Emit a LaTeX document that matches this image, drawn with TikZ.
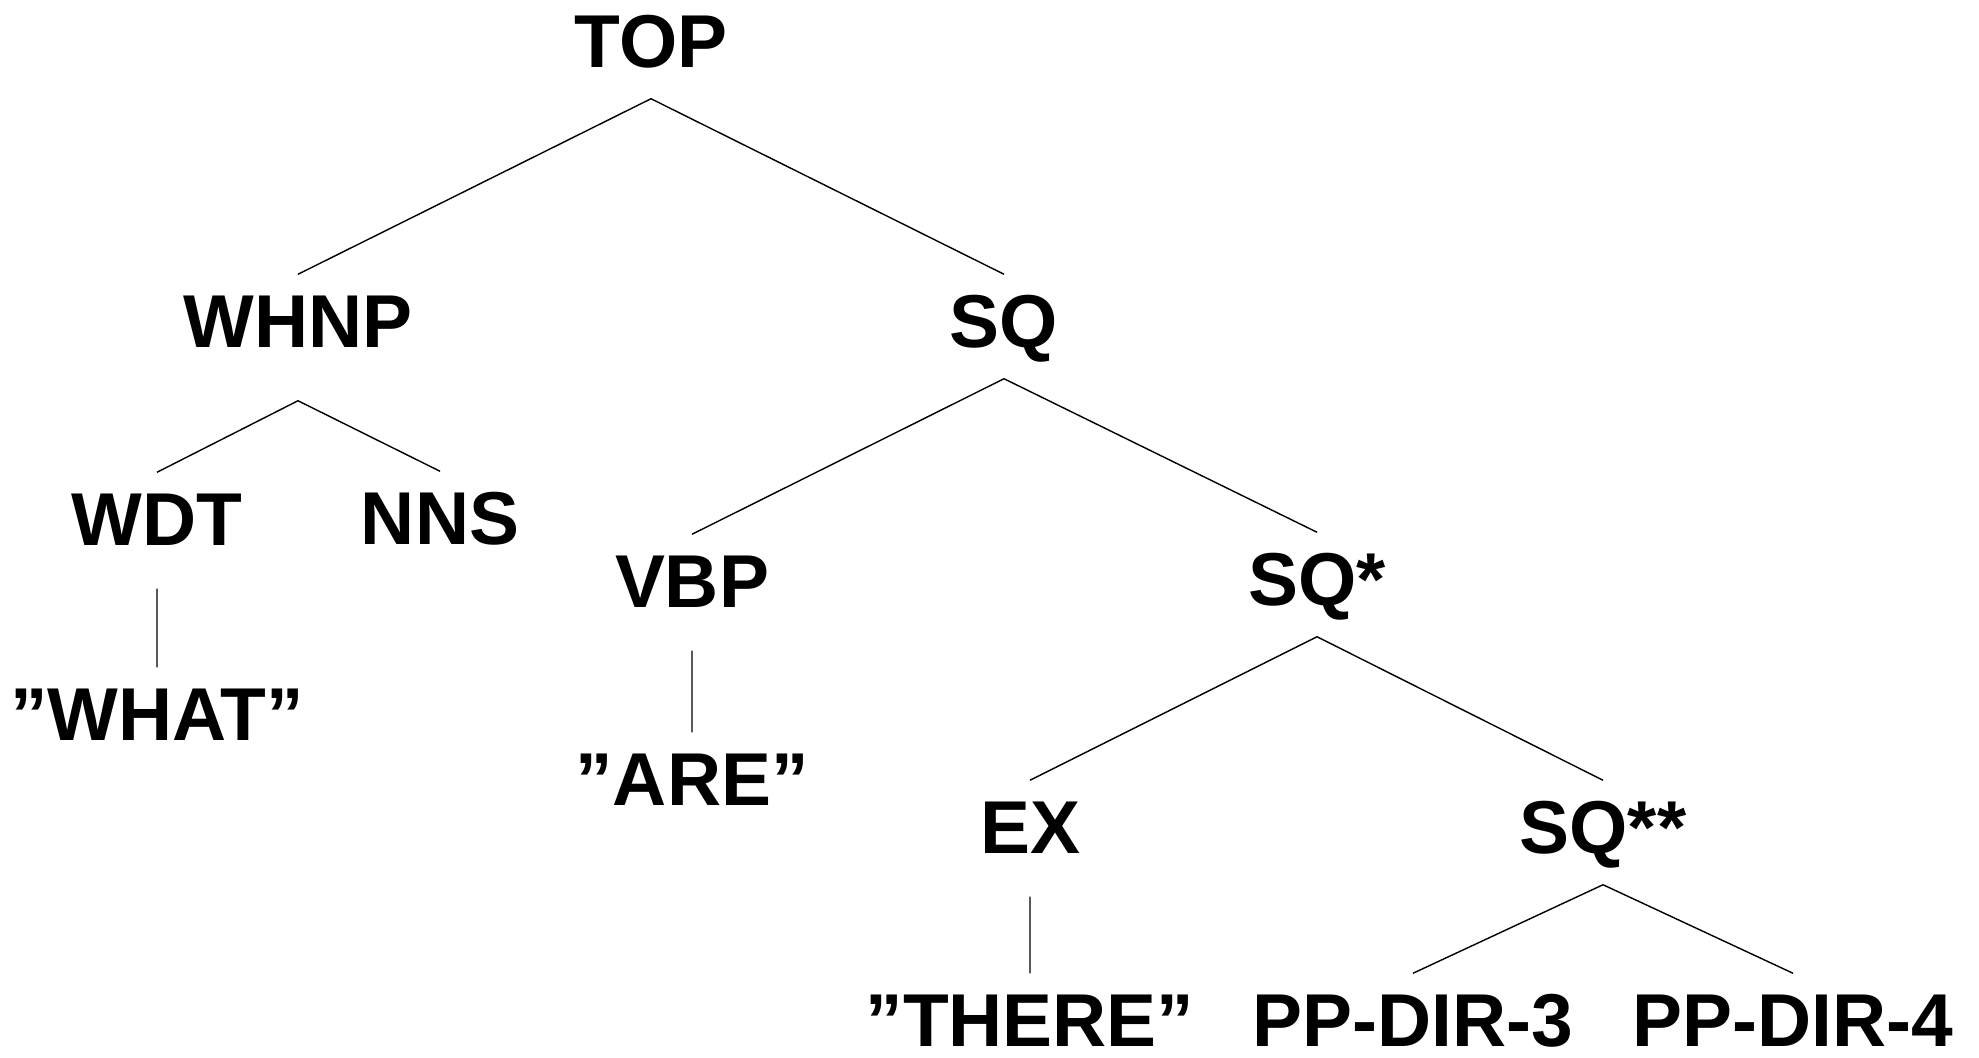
\documentclass[tikz,border=0pt]{standalone}
\usepackage{fontspec}
\setmainfont{Liberation Sans}
\begin{document}
\begin{tikzpicture}[x=0.01cm,y=-0.01cm,
    cat/.style={font=\fontsize{21.3pt}{24pt}\selectfont\bfseries,anchor=base,
      inner xsep=0pt,inner ysep=0.17cm,text height=0.55cm,text depth=0.14cm},
    tag/.style={cat,text depth=0.26cm},
    word/.style={cat}]
  \useasboundingbox (0,0) rectangle (1979,1057);
  \node[cat] (top) at (651,67) {TOP};
  \node[cat,text depth=0.36cm] (whnp) at (298,347) {WHNP};
  \node[cat] (sq) at (1004,347) {SQ};
  \node[tag] (wdt) at (157,545) {WDT};
  \node[cat] (nns) at (440,544) {NNS};
  \node[tag] (vbp) at (692,607) {VBP};
  \node[cat] (sqa) at (1317,605) {SQ*};
  \node[word] (what) at (157,740) {”WHAT”};
  \node[word] (are) at (692,805) {”ARE”};
  \node[tag] (ex) at (1030,853) {EX};
  \node[cat] (sqb) at (1603,853) {SQ**};
  \node[word] (there) at (1030,1046) {”THERE”};
  \node[cat] (ppa) at (1413,1046) {PP-DIR-3};
  \node[cat] (ppb) at (1793,1046) {PP-DIR-4};
  \draw[line width=0.4pt] (top.south) -- (whnp.north) (top.south) -- (sq.north)
    (whnp.south) -- (wdt.north) (whnp.south) -- (nns.north)
    (sq.south) -- (vbp.north) (sq.south) -- (sqa.north)
    (wdt.south) -- (what.north) (vbp.south) -- (are.north)
    (sqa.south) -- (ex.north) (sqa.south) -- (sqb.north)
    (ex.south) -- (there.north)
    (sqb.south) -- (ppa.north) (sqb.south) -- (ppb.north);
\end{tikzpicture}
\end{document}
